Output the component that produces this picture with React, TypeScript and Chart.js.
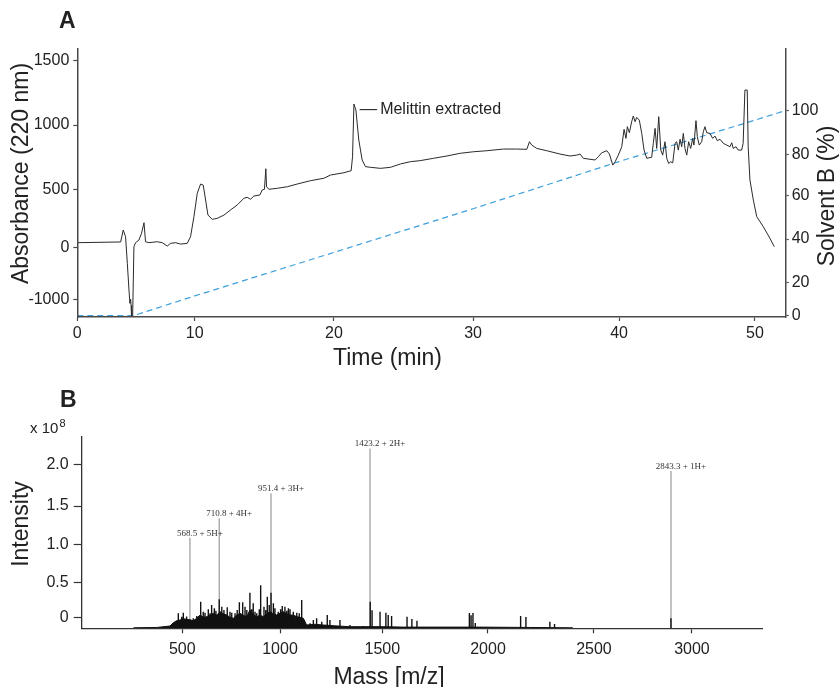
import React, { useEffect, useRef } from 'react';
import { Chart, registerables, LinearScale } from 'chart.js';

Chart.register(...registerables);

// ---------- Panel A data (HPLC chromatogram) ----------
const timeMin = [
  0, 3.69, 3.91, 4.11, 4.26, 4.40, 4.48, 4.54, 4.58, 4.62,
  4.71, 4.82, 4.96, 5.25, 5.47, 5.68, 5.81, 6.10, 6.81, 7.23,
  7.66, 7.94, 8.37, 8.79, 9.36, 9.64, 9.93, 10.18, 10.42, 10.61,
  10.78, 10.95, 11.26, 11.62, 12.10, 12.57, 13.05, 13.53, 13.77, 14.01,
  14.25, 14.68, 14.85, 15.01, 15.11, 15.16, 15.33, 15.93, 16.65, 17.36,
  18.32, 19.28, 19.76, 20.72, 21.24, 21.34, 21.44, 21.58, 21.79, 22.03,
  22.27, 22.63, 23.35, 24.06, 24.78, 25.50, 26.20, 27.15, 28.11, 29.07,
  30.02, 30.94, 32.08, 32.99, 33.68, 33.86, 34.02, 34.36, 35.05, 35.96,
  36.64, 37.10, 37.33, 37.55, 38.36, 38.58, 38.81, 39.16, 39.34, 39.57,
  39.73, 39.95, 40.20, 40.37, 40.51, 40.61, 40.76, 40.93, 41.05, 41.18,
  41.30, 41.49, 41.67, 41.84, 42.04, 42.40, 42.52, 42.65, 42.77, 42.92,
  43.07, 43.21, 43.38, 43.51, 43.65, 43.80, 43.95, 44.12, 44.24, 44.36,
  44.49, 44.61, 44.73, 44.85, 44.98, 45.12, 45.27, 45.42, 45.51, 45.66,
  45.76, 45.90, 46.08, 46.20, 46.32, 46.45, 46.69, 46.89, 47.06, 47.23,
  47.43, 47.67, 47.92, 48.16, 48.29, 48.40, 48.60, 48.77, 49.02, 49.13,
  49.26, 49.43, 49.50, 49.63, 49.88, 50.13, 50.61, 51.10, 51.42,
];
const absorbance = [
  40, 46, 149, 91, -308, -821, -1077, -1000, -1120, -1365,
  -1365, 5, 40, 63, 121, 212, 48, 40, 48, 40,
  11, 34, 40, 28, 34, 91, 264, 465, 541, 533,
  408, 278, 241, 250, 278, 322, 365, 422, 431, 414,
  442, 451, 494, 500, 660, 520, 500, 508, 520, 541,
  567, 586, 611, 629, 645, 753, 1163, 1117, 883, 728,
  676, 671, 663, 671, 697, 715, 723, 741, 759, 780,
  792, 800, 813, 813, 811, 870, 844, 818, 800, 774,
  759, 766, 774, 741, 728, 753, 784, 800, 774, 688,
  714, 766, 831, 966, 896, 987, 940, 1026, 1070, 1026,
  1059, 1038, 935, 805, 741, 749, 858, 974, 818, 1065,
  805, 766, 870, 741, 701, 714, 706, 858, 870, 805,
  889, 831, 935, 818, 766, 870, 818, 896, 844, 1034,
  909, 844, 870, 948, 987, 940, 935, 896, 914, 878,
  889, 858, 844, 831, 862, 818, 831, 805, 805, 858,
  1272, 1272, 831, 572, 407, 264, 178, 78, 5,
];
const gradTime = [0, 4.82, 10, 20, 30, 40, 50, 52.26];
const gradSolventB = [0, 0, 11.8, 33.8, 54.0, 76.5, 95.6, 100];

const timeTicks = [0, 10, 20, 30, 40, 50];
const absTicks = [-1000, 0, 500, 1000, 1500];
const solventTicks = [0, 20, 40, 60, 80, 100];
const melittinLabel = 'Melittin extracted';
const melittinAt = [21.85, 1120];

// ---------- Panel B data (mass spectrum) ----------
const peakMz = [539, 689, 954, 1440, 2893];
const peakIntensity = [1.086, 1.34, 1.652, 2.19, 1.92];
const peakLabels = ['568.5 + 5H+', '710.8 + 4H+', '951.4 + 3H+', '1423.2 + 2H+', '2843.3 + 1H+'];

const stickMz = [
  479.5, 497, 505, 522, 556, 574, 594, 607, 616, 633, 642, 650, 664, 672, 689, 702, 713, 730,
  744, 753, 770, 781, 792, 809, 821, 830, 846, 855, 863, 872, 881, 894, 901, 918, 927, 935,
  945, 954, 966, 974, 991, 1003, 1011, 1024, 1033, 1041, 1049, 1065, 1082, 1094, 1106, 1117,
  1147, 1163, 1179, 1204, 1231, 1244, 1293, 1342, 1407, 1441, 1450, 1489, 1517, 1528, 1544,
  1617, 1640, 1664, 1912, 1920, 1929, 1940, 2154, 2179, 2292, 2314, 2893,
];
const stickIntensity = [
  0.057, 0.009, 0.066, 0.01, -0.014, 0.019, 0.223, 0.08, 0.066, 0.114, 0.057, 0.176, 0.129, 0.094, 0.257, 0.151, 0.104, 0.143,
  0.08, 0.066, 0.057, 0.104, 0.214, 0.214, 0.151, 0.104, 0.352, 0.114, 0.2, 0.08, 0.057, 0.114, 0.457, 0.151, 0.104, 0.294,
  0.176, 0.352, 0.2, 0.129, 0.08, 0.114, 0.161, 0.151, 0.094, 0.129, 0.114, 0.08, 0.066, 0.057, 0.247, -0.039,
  -0.086, -0.039, -0.014, -0.063, 0.033, -0.039, -0.039, -0.11, -0.124, 0.223, 0.1, 0.08, 0.066, 0.033, 0.019,
  0.009, -0.024, -0.049, 0.061, 0.03, 0.061, -0.08, 0.019, 0.004, -0.063, -0.096, -0.012,
];
const envelopeMz = [
  250, 369, 437, 454, 471, 488, 505, 522, 540, 556, 575, 591, 608, 625, 642, 659, 676, 693, 710,
  727, 744, 761, 778, 795, 812, 830, 846, 863, 881, 898, 915, 932, 949, 966, 983, 1000, 1016,
  1033, 1049, 1066, 1082, 1098, 1114, 1130, 1170, 1212, 1260, 1342, 1505, 1600, 1900, 1960, 2200, 2400,
];
const envelopeIntensity = [
  -0.15, -0.145, -0.124, -0.077, -0.049, -0.039, -0.02, -0.029, -0.035, -0.049, -0.01, 0.033, 0.0, 0.009, 0.03, 0.057, 0.03, 0.08, 0.05,
  0.033, 0.0, -0.014, 0.03, 0.057, 0.03, 0.009, 0.104, 0.04, 0.009, 0.03, 0.009, 0.05, 0.08, 0.05, 0.033, 0.06, 0.08,
  0.05, 0.033, 0.03, 0.009, 0.0, -0.014, -0.11, -0.1, -0.11, -0.12, -0.134, -0.134, -0.14, -0.14, -0.14, -0.145, -0.15,
];
const massTicks = [500, 1000, 1500, 2000, 2500, 3000];
const intensityTicks = [0, 0.5, 1.0, 1.5, 2.0];

// ---------- piecewise-linear scale (the figure's axes are not evenly spaced) ----------
class PiecewiseScale extends LinearScale {
  static id = 'piecewise';
  toU(v: number): number {
    const b: number[][] = (this.options as any).breaks;
    let i = 0;
    while (i < b.length - 2 && v > b[i + 1][0]) i++;
    const [v0, u0] = b[i];
    const [v1, u1] = b[i + 1];
    return u0 + ((v - v0) * (u1 - u0)) / (v1 - v0);
  }
  fromU(u: number): number {
    const b: number[][] = (this.options as any).breaks;
    let i = 0;
    while (i < b.length - 2 && u > b[i + 1][1]) i++;
    const [v0, u0] = b[i];
    const [v1, u1] = b[i + 1];
    return v0 + ((u - u0) * (v1 - v0)) / (u1 - u0);
  }
  getPixelForValue(value: number): number {
    const a = this.toU(this.min);
    const z = this.toU(this.max);
    return this.getPixelForDecimal((this.toU(value) - a) / (z - a));
  }
  getValueForPixel(pixel: number): number {
    const a = this.toU(this.min);
    const z = this.toU(this.max);
    return this.fromU(a + this.getDecimalForPixel(pixel) * (z - a));
  }
}
Chart.register(PiecewiseScale as any);

const FONT = '"Liberation Sans", Arial, Helvetica, sans-serif';
const SERIF = '"Liberation Serif", "Times New Roman", serif';
const INK = '#222';
const AXIS = '#4a4a4a';

function setTicks(values: number[]) {
  return (axis: any) => {
    axis.ticks = values.map((v) => ({ value: v }));
  };
}

function axisStyle(tickLength: number) {
  return {
    grid: { display: true, drawOnChartArea: false, drawTicks: true, tickLength, tickWidth: 1.2, tickColor: AXIS },
    border: { display: true, color: AXIS, width: 1.5, z: 1 },
  };
}

function text(ctx: CanvasRenderingContext2D, s: string, x: number, y: number, font: string,
  align: CanvasTextAlign, baseline: CanvasTextBaseline, rot = 0, color = INK) {
  ctx.save();
  ctx.translate(x, y);
  if (rot) ctx.rotate(rot);
  ctx.font = font;
  ctx.fillStyle = color;
  ctx.textAlign = align;
  ctx.textBaseline = baseline;
  ctx.fillText(s, 0, 0);
  ctx.restore();
}

export default function App() {
  const refA = useRef<HTMLCanvasElement>(null);
  const refB = useRef<HTMLCanvasElement>(null);

  useEffect(() => {
    const chromData = timeMin.map((t, i) => ({ x: t, y: absorbance[i] }));
    const gradData = gradTime.map((t, i) => ({ x: t, y: gradSolventB[i] }));

    const textA = {
      id: 'textA',
      afterDraw(chart: any) {
        const { ctx, scales } = chart;
        text(ctx, 'A', 59, 28, `bold 23px ${FONT}`, 'left', 'alphabetic');
        text(ctx, 'Absorbance (220 nm)', 22, 173.5, `23px ${FONT}`, 'center', 'middle', -Math.PI / 2);
        text(ctx, 'Time (min)', 387.5, 365, `23px ${FONT}`, 'center', 'alphabetic');
        text(ctx, 'Solvent B (%)', 828, 196, `23px ${FONT}`, 'center', 'middle', -Math.PI / 2);
        const px = scales.x.getPixelForValue(melittinAt[0]);
        const py = scales.y.getPixelForValue(melittinAt[1]);
        ctx.save();
        ctx.strokeStyle = '#333';
        ctx.lineWidth = 1.2;
        ctx.beginPath();
        ctx.moveTo(px, py);
        ctx.lineTo(px + 17.5, py);
        ctx.stroke();
        ctx.restore();
        text(ctx, melittinLabel, px + 20.5, py, `16px ${FONT}`, 'left', 'middle');
      },
    };

    const tickFont = { family: FONT, size: 16 };

    const chartA = new Chart(refA.current as HTMLCanvasElement, {
      type: 'line',
      data: {
        datasets: [
          { label: 'Absorbance', data: chromData, yAxisID: 'y', borderColor: '#2a2a2a', borderWidth: 1, pointRadius: 0, tension: 0 },
          { label: 'Solvent B', data: gradData, yAxisID: 'y2', borderColor: '#3d9fdc', borderWidth: 1.2, borderDash: [6, 4], pointRadius: 0, tension: 0 },
        ],
      } as any,
      options: {
        responsive: false,
        animation: false,
        devicePixelRatio: 1,
        layout: { padding: { top: 49, left: 0, right: 0, bottom: 0 } },
        plugins: { legend: { display: false }, tooltip: { enabled: false } },
        scales: {
          x: {
            type: 'piecewise', position: 'bottom', min: 0, max: 52.26,
            breaks: [[0, 77], [10, 194.5], [20, 333.7], [30, 473], [40, 619], [50, 755]],
            afterBuildTicks: setTicks(timeTicks),
            afterFit: (s: any) => { s.height = 53; },
            ticks: { autoSkip: false, maxRotation: 0, padding: 3, color: INK, font: tickFont, callback: (v: any) => String(v) },
            ...axisStyle(4),
          },
          y: {
            type: 'piecewise', position: 'left', min: -1340, max: 1591,
            breaks: [[-1000, -299.3], [0, -247.3], [500, -189.3], [1000, -125], [1500, -60.7]],
            afterBuildTicks: setTicks(absTicks),
            afterFit: (s: any) => { s.width = 77.3; },
            ticks: { autoSkip: false, padding: 4, color: INK, font: tickFont, callback: (v: any) => String(v) },
            ...axisStyle(4),
          },
          y2: {
            type: 'piecewise', position: 'right', min: -0.9, max: 128.1,
            breaks: [[0, -315.5], [20, -282.3], [40, -239], [60, -195.7], [80, -154.3], [100, -110.5]],
            afterBuildTicks: setTicks(solventTicks),
            afterFit: (s: any) => { s.width = 53.3; },
            ticks: { autoSkip: false, padding: 3, color: INK, font: tickFont, callback: (v: any) => String(v) },
            ...axisStyle(3),
          },
        } as any,
      },
      plugins: [textA],
    });

    // ---------- Panel B ----------
    const yMinB = -0.157;
    const sticks: any[] = [];
    stickMz.forEach((m, i) => {
      sticks.push({ x: m, y: yMinB }, { x: m, y: stickIntensity[i] }, { x: m, y: null });
    });
    const peaks: any[] = [];
    peakMz.forEach((m, i) => {
      peaks.push({ x: m, y: yMinB }, { x: m, y: peakIntensity[i] }, { x: m, y: null });
    });
    const envelope = envelopeMz.map((m, i) => ({ x: m, y: envelopeIntensity[i] }));

    const textB = {
      id: 'textB',
      afterDraw(chart: any) {
        const { ctx, scales } = chart;
        text(ctx, 'B', 60, 37, `bold 23px ${FONT}`, 'left', 'alphabetic');
        text(ctx, 'x 10', 30, 63, `15px ${FONT}`, 'left', 'alphabetic');
        text(ctx, '8', 59.5, 57, `11px ${FONT}`, 'left', 'alphabetic');
        text(ctx, 'Intensity', 22, 154, `23px ${FONT}`, 'center', 'middle', -Math.PI / 2);
        text(ctx, 'Mass [m/z]', 389, 314, `23px ${FONT}`, 'center', 'alphabetic');
        peakMz.forEach((m, i) => {
          const px = scales.x.getPixelForValue(m);
          const py = scales.y.getPixelForValue(peakIntensity[i]);
          text(ctx, peakLabels[i], px + 10, py - 2, `9px ${SERIF}`, 'center', 'alphabetic', 0, '#333');
        });
      },
    };

    const chartB = new Chart(refB.current as HTMLCanvasElement, {
      type: 'line',
      data: {
        datasets: [
          { label: 'sticks', data: sticks, borderColor: '#111', borderWidth: 1.4, pointRadius: 0, spanGaps: false },
          { label: 'envelope', data: envelope, borderColor: '#111', backgroundColor: '#111', borderWidth: 1, pointRadius: 0, fill: 'start', tension: 0 },
          { label: 'peaks', data: peaks, borderColor: '#9a9a9a', borderWidth: 1.2, pointRadius: 0, spanGaps: false },
        ],
      } as any,
      options: {
        responsive: false,
        animation: false,
        devicePixelRatio: 1,
        layout: { padding: { top: 66.7, left: 0, right: 76.3, bottom: 0 } },
        plugins: { legend: { display: false }, tooltip: { enabled: false } },
        scales: {
          x: {
            type: 'piecewise', position: 'bottom', min: -15, max: 3361,
            breaks: [[500, 182.3], [1000, 280], [1500, 382.3], [2000, 488], [2500, 594], [3000, 692]],
            afterBuildTicks: setTicks(massTicks),
            afterFit: (s: any) => { s.height = 58.7; },
            ticks: { autoSkip: false, maxRotation: 0, padding: 7, color: INK, font: tickFont, callback: (v: any) => String(v) },
            grid: { display: true, drawOnChartArea: false, drawTicks: true, tickLength: 5, tickWidth: 1.2, tickColor: '#333' },
            border: { display: true, color: '#333', width: 1.3, z: 1 },
          },
          y: {
            type: 'piecewise', position: 'left', min: yMinB, max: 2.331,
            breaks: [[0, -617.3], [0.5, -582.3], [1.0, -544.3], [1.5, -506], [2.0, -464.3]],
            afterBuildTicks: setTicks(intensityTicks),
            afterFit: (s: any) => { s.width = 81.7; },
            ticks: { autoSkip: false, padding: 5, color: INK, font: tickFont, callback: (v: any) => (v === 0 ? '0' : Number(v).toFixed(1)) },
            grid: { display: true, drawOnChartArea: false, drawTicks: true, tickLength: 8, tickWidth: 1.2, tickColor: '#333' },
            border: { display: true, color: '#333', width: 1.3, z: 1 },
          },
        } as any,
      },
      plugins: [textB],
    });

    return () => {
      chartA.destroy();
      chartB.destroy();
    };
  }, []);

  return (
    <div style={{ position: 'absolute', left: 0, top: 0, width: 839, height: 687, background: '#fff' }}>
      <canvas ref={refA} width={839} height={370} style={{ position: 'absolute', left: 0, top: 0 }} />
      <canvas ref={refB} width={839} height={317} style={{ position: 'absolute', left: 0, top: 370 }} />
    </div>
  );
}
